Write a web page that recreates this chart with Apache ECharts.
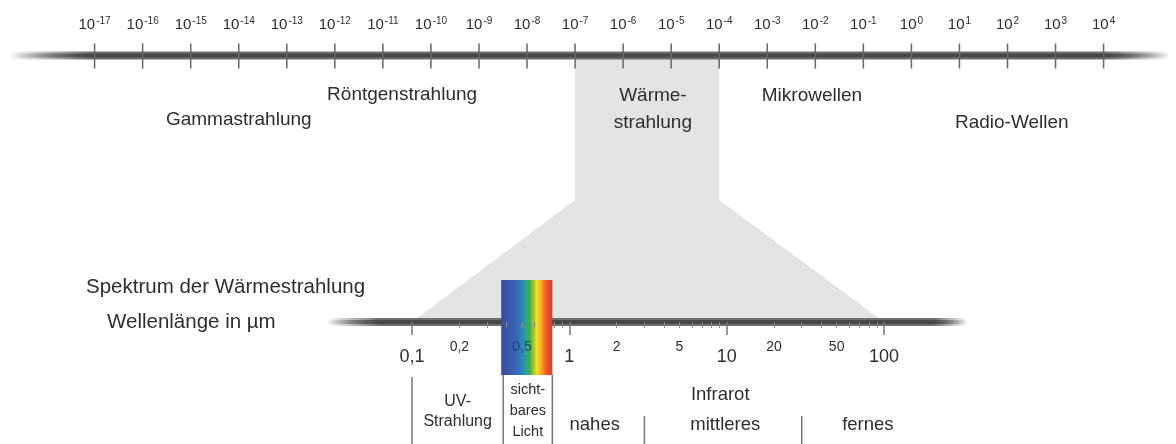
<!DOCTYPE html>
<html><head><meta charset="utf-8">
<script src="https://cdn.jsdelivr.net/npm/echarts@6/dist/echarts.min.js"></script>
<style>html,body{margin:0;padding:0;background:#fff}#c{width:1176px;height:444px}</style>
</head><body><div id="c"></div>
<script>
// ---------------- data ----------------
const topExponents = [-17,-16,-15,-14,-13,-12,-11,-10,-9,-8,-7,-6,-5,-4,-3,-2,-1,0,1,2,3,4]; // wavelength 10^x m
const bandNames = ['Gammastrahlung','Röntgenstrahlung','Wärme-\nstrahlung','Mikrowellen','Radio-Wellen'];
const bandCenters = [-14.0,-10.6,-5.38,-2.07,2.09];          // exponent (m)
const thermalRangeExp = [-7,-4];                             // 10^-7 .. 10^-4 m
const thermalRangeUm = [0.1,100];                            // µm
const majorUm = [0.1,1,10,100];
const minorLabelUm = [0.2,0.5,2,5,20,50];
const minorTickUm = [0.2,0.3,0.4,0.5,0.6,0.7,0.8,0.9,2,3,4,5,6,7,8,9,20,30,40,50,60,70,80,90];
const visibleUm = [0.38,0.78];
const regionBounds = [0.1,0.38,0.78,3,30];
const regionNames = ['UV-\nStrahlung','sicht-\nbares\nLicht','nahes','mittleres','fernes'];
const regionCenters = [0.195,0.545,1.45,9.8,79];
const infraredName = 'Infrarot';
const infraredCenter = 9.1;
const topLineExtent = [-18.76,5.38];
const lowerLineExtent = [0.0288,337];

// ---------------- layout ----------------
const FONT = "'Liberation Sans', Arial, sans-serif";
const TXT = '#2e2e2e';
const Y_TOP = 55.5, Y_BOT = 322, GH = Y_BOT - Y_TOP;
const fy = px => (Y_BOT - px) / GH;
const lg = Math.log10;
const fmtUm = v => String(Number(Math.pow(10, v).toPrecision(6))).replace('.', ',');

const bandY = [120, 95, 109.5, 96, 123];
const regionY = [412, 411, 425, 425, 425];
const regionFont = [16, 14.5, 18.5, 18.5, 18.5];
const regionLH = [20, 21, 22, 22, 22];

function fade(c, a, fl, fr) {
  return new echarts.graphic.LinearGradient(0, 0, 1, 0, [
    {offset: 0, color: 'rgba(' + c + ',0)'},
    {offset: fl, color: 'rgba(' + c + ',' + a + ')'},
    {offset: 1 - fr, color: 'rgba(' + c + ',' + a + ')'},
    {offset: 1, color: 'rgba(' + c + ',0)'}
  ]);
}
function lineItem(yv, fl, fr) {
  return function (params, api) {
    const p0 = api.coord([api.value(0), yv]);
    const p1 = api.coord([api.value(1), yv]);
    const w = p1[0] - p0[0];
    return {type: 'group', children: [
      {type: 'rect', shape: {x: p0[0], y: p0[1] - 4, width: w, height: 8}, style: {fill: fade('110,110,110', 1, fl, fr)}},
      {type: 'rect', shape: {x: p0[0], y: p0[1] - 2, width: w, height: 4}, style: {fill: fade('72,72,72', 1, fl, fr)}}
    ]};
  };
}

const chart = echarts.init(document.getElementById('c'));
const option = {
  animation: false,
  backgroundColor: '#fff',
  grid: [
    {left: 94.6, width: 1009, top: Y_TOP, height: GH},
    {left: 412, width: 472, top: Y_TOP, height: GH}
  ],
  xAxis: [
    {gridIndex: 0, type: 'value', min: -17, max: 4, interval: 1, position: 'top', z: 5,
     axisLine: {show: false}, splitLine: {show: false}, axisTick: {show: false},
     axisLabel: {margin: 22, formatter: v => '{b|10}{s|' + v + '}',
       rich: {b: {fontSize: 15, fontFamily: FONT, color: TXT, lineHeight: 17},
              s: {fontSize: 10, fontFamily: FONT, color: TXT, verticalAlign: 'top', padding: [0, 0, 0, 1]}}}},
    {gridIndex: 1, type: 'value', min: -1, max: 2, interval: 1, position: 'bottom', z: 6,
     axisLine: {show: false}, splitLine: {show: false},
     axisTick: {show: true, length: 13, lineStyle: {color: '#777', width: 1.5}},
     axisLabel: {margin: 26, fontSize: 18, fontFamily: FONT, color: TXT, formatter: fmtUm}},
    {gridIndex: 1, type: 'value', min: -1, max: 2, position: 'bottom', z: 6,
     axisLine: {show: false}, splitLine: {show: false},
     axisTick: {show: true, length: 6, customValues: minorTickUm.map(lg), lineStyle: {color: '#888', width: 1}},
     axisLabel: {margin: 18, customValues: minorLabelUm.map(lg),
       formatter: v => Math.abs(Math.pow(10, v) - 0.5) < 1e-6 ? '{h|' + fmtUm(v) + '}' : '{n|' + fmtUm(v) + '}',
       rich: {n: {fontSize: 14, fontFamily: FONT, color: TXT}, h: {fontSize: 14, fontFamily: FONT, color: '#1c4a6e'}}}}
  ],
  yAxis: [
    {gridIndex: 0, type: 'value', min: 0, max: 1, show: false},
    {gridIndex: 1, type: 'value', min: 0, max: 1, show: false}
  ],
  series: [
    {type: 'custom', name: 'rainbow', xAxisIndex: 1, yAxisIndex: 1, z: 3, clip: false, silent: true,
     data: [[lg(visibleUm[0]), lg(visibleUm[1])]],
     renderItem: (params, api) => {
       const a = api.coord([api.value(0), fy(280)]);
       const b = api.coord([api.value(1), fy(375)]);
       return {type: 'rect', shape: {x: a[0] - 2, y: a[1], width: b[0] - a[0] + 2, height: b[1] - a[1]},
         style: {fill: new echarts.graphic.LinearGradient(0, 0, 1, 0, [
           {offset: 0, color: '#3c4a9e'}, {offset: 0.3, color: '#3866b6'}, {offset: 0.42, color: '#2b88bf'},
           {offset: 0.49, color: '#27a68c'}, {offset: 0.56, color: '#3fae49'}, {offset: 0.64, color: '#a6cb38'},
           {offset: 0.7, color: '#f3e41d'}, {offset: 0.78, color: '#f7a91f'}, {offset: 0.88, color: '#ee5a25'},
           {offset: 1, color: '#e33a2a'}])}};
     }},
    {type: 'custom', name: 'topLine', xAxisIndex: 0, yAxisIndex: 0, z: 4, clip: false, silent: true,
     data: [topLineExtent], renderItem: lineItem(1, 0.07, 0.056)},
    {type: 'custom', name: 'topTicks', xAxisIndex: 0, yAxisIndex: 0, z: 5, clip: false, silent: true,
     data: topExponents.map(e => [e, 1]),
     renderItem: (params, api) => {
       const p = api.coord([api.value(0), api.value(1)]);
       return {type: 'line', shape: {x1: p[0], y1: p[1] - 12, x2: p[0], y2: p[1] + 13}, style: {stroke: '#666', lineWidth: 1.5}};
     }},
    {type: 'custom', name: 'lowerLine', xAxisIndex: 1, yAxisIndex: 1, z: 2, clip: false, silent: true,
     data: [lowerLineExtent.map(lg)], renderItem: lineItem(0, 0.083, 0.053)},
    {type: 'custom', name: 'dividers', xAxisIndex: 1, yAxisIndex: 1, z: 4, clip: false, silent: true,
     data: regionBounds.map((b, i) => [lg(b), i]),
     renderItem: (params, api) => {
       const i = api.value(1);
       const yTop = i === 0 ? 377 : (i < 3 ? 375 : 416);
       const a = api.coord([api.value(0), fy(yTop)]);
       const b = api.coord([api.value(0), fy(446)]);
       return {type: 'line', shape: {x1: a[0], y1: a[1], x2: b[0], y2: b[1]}, style: {stroke: '#777', lineWidth: 1.5}};
     }},
    {type: 'custom', name: 'bandLabels', xAxisIndex: 0, yAxisIndex: 0, z: 7, clip: false, silent: true,
     data: bandCenters.map((c, i) => [c, fy(bandY[i]), i]),
     renderItem: (params, api) => {
       const p = api.coord([api.value(0), api.value(1)]);
       return {type: 'text', x: p[0], y: p[1], style: {text: bandNames[api.value(2)], fontSize: 19, fontFamily: FONT,
         fill: TXT, align: 'center', verticalAlign: 'middle', lineHeight: 27}};
     }},
    {type: 'custom', name: 'regionLabels', xAxisIndex: 1, yAxisIndex: 1, z: 7, clip: false, silent: true,
     data: regionCenters.map((c, i) => [lg(c), fy(regionY[i]), i]).concat([[lg(infraredCenter), fy(395), -1]]),
     renderItem: (params, api) => {
       const i = api.value(2);
       const p = api.coord([api.value(0), api.value(1)]);
       const txt = i < 0 ? infraredName : regionNames[i];
       const fs = i < 0 ? 18.5 : regionFont[i];
       const lh = i < 0 ? 22 : regionLH[i];
       return {type: 'text', x: p[0], y: p[1], style: {text: txt, fontSize: fs, fontFamily: FONT,
         fill: TXT, align: 'center', verticalAlign: 'middle', lineHeight: lh}};
     }}
  ],
  graphic: [
    {type: 'text', id: 't1', x: 86, y: 287, z: 10, silent: true,
     style: {text: 'Spektrum der Wärmestrahlung', fontSize: 20.5, fontFamily: FONT, fill: TXT, align: 'left', verticalAlign: 'middle'}},
    {type: 'text', id: 't2', x: 107, y: 322, z: 10, silent: true,
     style: {text: 'Wellenlänge in µm', fontSize: 20.5, fontFamily: FONT, fill: TXT, align: 'left', verticalAlign: 'middle'}}
  ]
};
chart.setOption(option);

// gray funnel linking the thermal range on both axes (positions via the axes' scales)
const c0 = (x, y) => chart.convertToPixel({xAxisIndex: 0, yAxisIndex: 0}, [x, y]);
const c1 = (x, y) => chart.convertToPixel({xAxisIndex: 1, yAxisIndex: 1}, [x, y]);
const neck = fy(200);
const pts = [
  c0(thermalRangeExp[0], 1), c0(thermalRangeExp[1], 1), c0(thermalRangeExp[1], neck),
  c1(lg(thermalRangeUm[1]), 0), c1(lg(thermalRangeUm[0]), 0), c0(thermalRangeExp[0], neck)
];
chart.setOption({graphic: [
  {type: 'polygon', id: 'funnel', z: -1, silent: true, shape: {points: pts}, style: {fill: '#e3e3e3'}}
]});
</script></body></html>
